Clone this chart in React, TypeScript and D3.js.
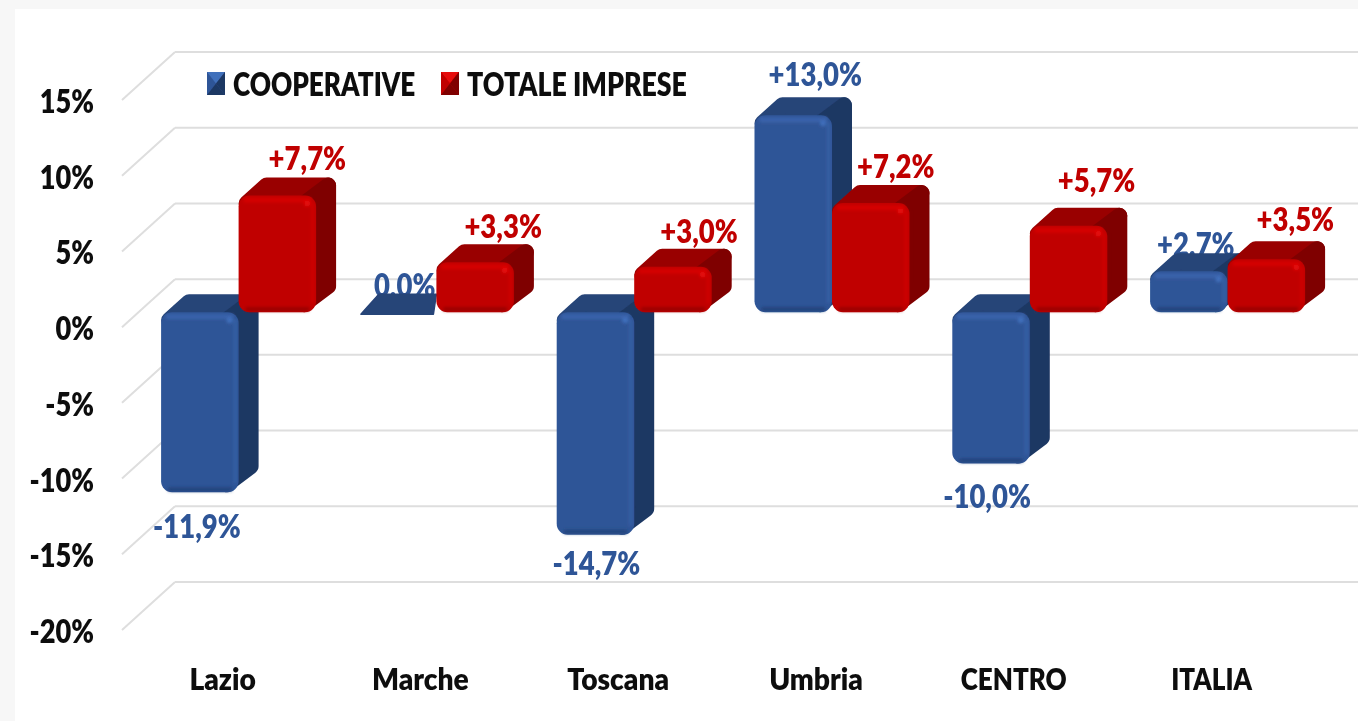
import React from 'react';
import * as d3 from 'd3';

const W = 1358;
const H = 721;

const CATEGORIES = ['Lazio', 'Marche', 'Toscana', 'Umbria', 'CENTRO', 'ITALIA'];
const SERIES = ['COOPERATIVE', 'TOTALE IMPRESE'];
const COOPERATIVE = [-11.9, 0.0, -14.7, 13.0, -10.0, 2.7];
const TOTALE_IMPRESE = [7.7, 3.3, 3.0, 7.2, 5.7, 3.5];
const Y_TICKS = [15, 10, 5, 0, -5, -10, -15, -20];

// hand placed labels in the original, offsets from the bar's top/bottom centre
const COOP_NUDGE = [[-3, 34], [7, -9], [1, 29], [22, -23], [-4, 33], [7, -9]];
const TOT_NUDGE = [[30, -19], [28, -18], [26, -17], [25, -19], [28, -27], [29, -22]];

const COLORS: Record<string, any> = {
  COOPERATIVE: { front: '#2f5597', top: '#264478', side: '#1f3864', rim: '#4170bb', dark: '#1f3f73', text: '#2f5597' },
  'TOTALE IMPRESE': { front: '#c00000', top: '#990000', side: '#7f0000', rim: '#e60808', dark: '#8f0000', text: '#c00000' },
};

const FONT = 'Lato, "Open Sans", sans-serif';
const DEPTH_X = 20;
const DEPTH_Y = 18;
const WALL_X = 53;
const WALL_Y = 48;

const y = d3.scaleLinear().domain([-20, 15]).range([630, 100]);
const x0 = d3.scaleBand<string>().domain(CATEGORIES).range([139.7, 1326.5]);
const x1 = d3.scaleBand<string>().domain(SERIES).range([x0.bandwidth() / 2 - 77.5, x0.bandwidth() / 2 + 77.5]);
const pxPerUnit = (y(0) - y(1));
const barZero = y(0) - 15;
const barY = (v: number) => barZero - v * pxPerUnit;
const fmt = (v: number) => (v === 0 ? '0,0%' : (v > 0 ? '+' : '') + v.toFixed(1).replace('.', ',') + '%');

// Calibri-ish: Lato squeezed horizontally
function Txt({ x, y: ty, size, sx = 0.85, anchor = 'start', fill = '#0d0d0d', children }: any) {
  return (
    <text
      transform={`translate(${x},${ty}) scale(${sx},1)`}
      dy="0.36em"
      textAnchor={anchor}
      fontFamily={FONT}
      fontWeight={800}
      fontSize={size}
      fill={fill}
    >
      {children}
    </text>
  );
}

function Bar({ x, w, v, s }: { x: number; w: number; v: number; s: string }) {
  const c = COLORS[s];
  const t = Math.min(barY(v), barZero);
  const b = Math.max(barY(v), barZero);
  const r = 8;
  const line = d3.line();
  if (v === 0) {
    return (
      <path
        d={line([[x + 2, b + 2], [x + DEPTH_X, b - DEPTH_Y], [x + w, b - DEPTH_Y], [x + w - 3, b + 2]]) + 'Z'}
        fill={c.top}
        stroke={c.top}
        strokeWidth={1.5}
        strokeLinejoin="round"
      />
    );
  }
  const side = line([
    [x + w - 12, t + r],
    [x + w + DEPTH_X - r, t - DEPTH_Y + r],
    [x + w + DEPTH_X - r, b - DEPTH_Y - r],
    [x + w - 12, b - r],
  ]) + 'Z';
  const top = line([
    [x + r, t + r],
    [x + DEPTH_X + r, t - DEPTH_Y + r],
    [x + w + DEPTH_X - r, t - DEPTH_Y + r],
    [x + w - r, t + r],
  ]) + 'Z';
  const h = b - t;
  return (
    <g>
      <path d={top} fill={c.top} stroke={c.top} strokeWidth={2 * r} strokeLinejoin="round" />
      <path d={side} fill={c.side} stroke={c.side} strokeWidth={2 * r} strokeLinejoin="round" />
      <rect x={x} y={t} width={w} height={h} rx={11} fill={c.front} />
      <g filter="url(#bevel)">
        <rect x={x + 5} y={t + 2} width={w - 10} height={5} fill={c.rim} opacity={0.55} />
        <rect x={x + w - 5} y={t + 7} width={3} height={Math.max(h - 16, 2)} fill={c.rim} opacity={0.4} />
        <rect x={x + 7} y={b - 5} width={w - 14} height={4} fill={c.dark} opacity={0.75} />
        <circle cx={x + w - 9} cy={t + 8} r={3} fill={c.rim} />
      </g>
    </g>
  );
}

function Swatch({ x, yTop, s }: { x: number; yTop: number; s: string }) {
  const c = COLORS[s];
  const w = 18;
  const h = 23;
  const cx = x + w / 2;
  const cy = yTop + h / 2;
  const line = d3.line();
  const tri = (a: [number, number], b: [number, number]) => line([a, b, [cx, cy]]) + 'Z';
  return (
    <g>
      <rect x={x} y={yTop} width={w} height={h} fill={c.front} />
      <path d={tri([x, yTop], [x + w, yTop])} fill={c.rim} />
      <path d={tri([x + w, yTop], [x + w, yTop + h])} fill={c.side} />
      <path d={tri([x, yTop + h], [x + w, yTop + h])} fill={c.side} />
    </g>
  );
}

export default function App() {
  const w = x1.bandwidth();
  return (
    <svg width={W} height={H} style={{ position: 'fixed', left: 0, top: 0, background: '#f7f7f7' }}>
      <defs>
        <filter id="soft" x="-2%" y="-2%" width="104%" height="104%">
          <feGaussianBlur stdDeviation="0.7" />
        </filter>
        <filter id="bevel" x="-20%" y="-20%" width="140%" height="140%">
          <feGaussianBlur stdDeviation="1.5" />
        </filter>
      </defs>
      <rect x={15} y={9} width={W - 15} height={H - 9} fill="#fff" />
      <g filter="url(#soft)">
        {/* walls */}
        {Y_TICKS.map(t => (
          <g key={t} fill="none" stroke="#dedede" strokeWidth={2}>
            <line x1={122} y1={y(t)} x2={122 + WALL_X} y2={y(t) - WALL_Y} />
            <line x1={122 + WALL_X} y1={y(t) - WALL_Y} x2={W} y2={y(t) - WALL_Y} />
          </g>
        ))}

        {/* y axis */}
        {Y_TICKS.map(t => (
          <Txt key={t} x={94} y={y(t) + 1.5} size={32} sx={0.85} anchor="end">{t}%</Txt>
        ))}

        {/* x axis */}
        {CATEGORIES.map(c => (
          <Txt key={c} x={x0(c)! + x0.bandwidth() / 2 - 16} y={679} size={31} sx={c === c.toUpperCase() ? 0.84 : 0.91} anchor="middle">{c}</Txt>
        ))}

        {/* value labels sit under the bars */}
        {CATEGORIES.map((c, i) => {
          const bx = x0(c)!;
          const coop = COOPERATIVE[i];
          const tot = TOTALE_IMPRESE[i];
          const coopBase = coop < 0 ? barY(coop) : barY(coop) - DEPTH_Y;
          return (
            <g key={c}>
              <Txt x={bx + x1(SERIES[0])! + w / 2 + COOP_NUDGE[i][0]} y={coopBase + COOP_NUDGE[i][1]} size={32} sx={0.86} anchor="middle" fill={COLORS[SERIES[0]].text}>
                {fmt(coop)}
              </Txt>
              <Txt x={bx + x1(SERIES[1])! + w / 2 + TOT_NUDGE[i][0]} y={barY(tot) - DEPTH_Y + TOT_NUDGE[i][1]} size={32} sx={0.86} anchor="middle" fill={COLORS[SERIES[1]].text}>
                {fmt(tot)}
              </Txt>
            </g>
          );
        })}

        {/* bars */}
        {CATEGORIES.map((c, i) => {
          const bx = x0(c)!;
          return (
            <g key={c}>
              <Bar x={bx + x1(SERIES[0])!} w={w} v={COOPERATIVE[i]} s={SERIES[0]} />
              <Bar x={bx + x1(SERIES[1])!} w={w} v={TOTALE_IMPRESE[i]} s={SERIES[1]} />
            </g>
          );
        })}

        {/* legend */}
        <Swatch x={207} yTop={72} s={SERIES[0]} />
        <Txt x={233} y={84.5} size={32} sx={0.817}>{SERIES[0]}</Txt>
        <Swatch x={441} yTop={72} s={SERIES[1]} />
        <Txt x={467} y={84.5} size={32} sx={0.835}>{SERIES[1]}</Txt>
      </g>
    </svg>
  );
}
